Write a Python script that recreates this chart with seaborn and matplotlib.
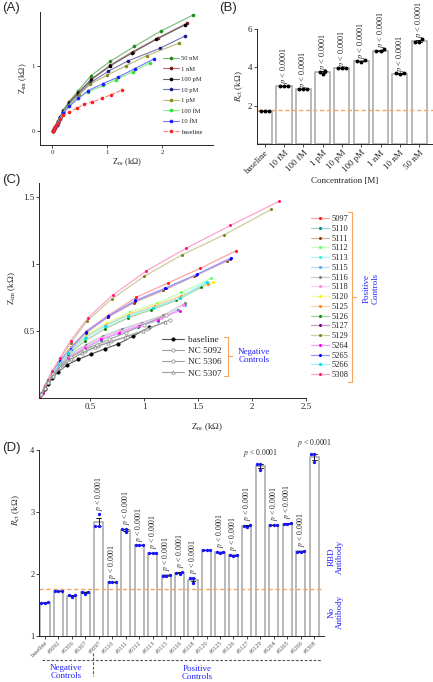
import numpy as np
import pandas as pd
import matplotlib
matplotlib.use("Agg")
import matplotlib.pyplot as plt
from matplotlib.lines import Line2D
from matplotlib import colors as mcolors
import seaborn as sns

# ---------------- data ----------------
# (A) Nyquist plots for RBD concentrations
a_labels = ['50 nM', '1 nM', '100 pM', '10 pM', '1 pM', '100 fM', '10 fM', 'baseline']
a_colors = ['#1c8c1c', '#7a1414', '#000000', '#1a1a86', '#8c8c1c', '#2ee62e', '#1a1aff', '#ff1f1f']
a_x = [
    [0.02, 0.03, 0.05, 0.08, 0.10, 0.14, 0.20, 0.30, 0.47, 0.70, 1.05, 1.49, 1.98, 2.55],
    [0.02, 0.03, 0.05, 0.08, 0.10, 0.14, 0.20, 0.30, 0.47, 0.71, 1.05, 1.46, 1.92, 2.45],
    [0.02, 0.03, 0.05, 0.08, 0.10, 0.14, 0.20, 0.30, 0.47, 0.71, 1.05, 1.45, 1.89, 2.41],
    [0.02, 0.03, 0.05, 0.08, 0.10, 0.14, 0.20, 0.30, 0.47, 0.69, 1.02, 1.38, 1.95, 2.41],
    [0.02, 0.03, 0.05, 0.08, 0.10, 0.14, 0.20, 0.30, 0.48, 0.69, 1.00, 1.33, 1.72, 2.30],
    [0.02, 0.03, 0.05, 0.08, 0.10, 0.14, 0.19, 0.29, 0.46, 0.64, 0.93, 1.16, 1.46, 1.78],
    [0.02, 0.03, 0.05, 0.08, 0.10, 0.14, 0.19, 0.31, 0.47, 0.65, 0.92, 1.20, 1.50, 1.85],
    [0.02, 0.03, 0.05, 0.07, 0.10, 0.14, 0.20, 0.31, 0.44, 0.58, 0.73, 0.90, 1.07, 1.27],
]
a_y = [
    [0.00, 0.03, 0.06, 0.11, 0.15, 0.22, 0.32, 0.45, 0.62, 0.85, 1.07, 1.30, 1.54, 1.78],
    [0.00, 0.03, 0.06, 0.11, 0.15, 0.21, 0.31, 0.44, 0.59, 0.80, 1.01, 1.22, 1.43, 1.66],
    [0.00, 0.03, 0.06, 0.10, 0.14, 0.21, 0.30, 0.43, 0.58, 0.79, 1.00, 1.20, 1.41, 1.63],
    [0.00, 0.03, 0.06, 0.10, 0.14, 0.20, 0.29, 0.41, 0.56, 0.74, 0.92, 1.08, 1.27, 1.46],
    [0.00, 0.03, 0.06, 0.10, 0.14, 0.20, 0.28, 0.40, 0.55, 0.72, 0.86, 1.00, 1.16, 1.35],
    [0.00, 0.03, 0.06, 0.10, 0.13, 0.19, 0.27, 0.38, 0.50, 0.60, 0.70, 0.79, 0.91, 1.05],
    [0.00, 0.03, 0.06, 0.10, 0.13, 0.19, 0.27, 0.38, 0.50, 0.62, 0.73, 0.83, 0.96, 1.11],
    [0.00, 0.03, 0.06, 0.09, 0.13, 0.18, 0.24, 0.29, 0.35, 0.41, 0.45, 0.50, 0.56, 0.63],
]

# (B) Rct vs concentration
conc_b = ['baseline', '10 fM', '100 fM', '1 pM', '10 pM', '100 pM', '1 nM', '10 nM', '50 nM']
rct_b = [
    [1.72, 1.72, 1.72],
    [3.05, 3.05, 3.05],
    [2.87, 2.87, 2.87],
    [3.80, 3.63, 3.77],
    [3.97, 3.97, 3.97],
    [4.33, 4.29, 4.36],
    [4.95, 4.83, 4.83],
    [3.69, 3.63, 3.71],
    [5.47, 5.33, 5.33],
]
cutoff_b = 1.8

# (C) Nyquist plots for patient samples
c_pos_labels = ['5097', '5110', '5111', '5112', '5113', '5115', '5116', '5118', '5120',
                '5125', '5126', '5127', '5129', '5264', '5265', '5266', '5308']
c_pos_colors = ['#ff1a1a', '#008b8b', '#8b4513', '#66ff66', '#33f0f0', '#55aaf0', '#808080',
                '#ff88f0', '#f5f500', '#ff8a1a', '#138a13', '#7a007a', '#80801a', '#ff00ff',
                '#0000ff', '#00e0ee', '#ff1a75']
c_pos_x = [
    [0.04, 0.06, 0.08, 0.11, 0.15, 0.22, 0.32, 0.47, 0.68, 0.93, 1.22, 1.52, 1.85],
    [0.04, 0.06, 0.08, 0.11, 0.15, 0.21, 0.30, 0.45, 0.60, 0.77, 0.94, 1.125, 1.31],
    [0.04, 0.06, 0.08, 0.11, 0.15, 0.22, 0.31, 0.46, 0.66, 0.91, 1.18, 1.46, 1.77],
    [0.04, 0.06, 0.08, 0.11, 0.15, 0.21, 0.31, 0.47, 0.66, 0.87, 1.12, 1.345, 1.62],
    [0.04, 0.06, 0.08, 0.11, 0.15, 0.21, 0.30, 0.46, 0.65, 0.85, 1.09, 1.32, 1.56],
    [0.04, 0.06, 0.08, 0.11, 0.15, 0.21, 0.30, 0.45, 0.61, 0.79, 0.97, 1.17, 1.375],
    [0.04, 0.06, 0.08, 0.11, 0.15, 0.21, 0.30, 0.46, 0.62, 0.80, 0.98, 1.18, 1.38],
    [0.04, 0.06, 0.08, 0.11, 0.15, 0.21, 0.30, 0.45, 0.60, 0.78, 0.96, 1.16, 1.36],
    [0.04, 0.06, 0.08, 0.11, 0.15, 0.21, 0.30, 0.46, 0.66, 0.88, 1.13, 1.38, 1.64],
    [0.04, 0.06, 0.08, 0.11, 0.15, 0.21, 0.30, 0.46, 0.65, 0.86, 1.10, 1.34, 1.59],
    [0.04, 0.06, 0.08, 0.11, 0.15, 0.21, 0.30, 0.455, 0.64, 0.85, 1.065, 1.30, 1.53],
    [0.04, 0.06, 0.08, 0.11, 0.15, 0.22, 0.32, 0.46, 0.67, 0.92, 1.20, 1.48, 1.80],
    [0.04, 0.06, 0.08, 0.11, 0.15, 0.22, 0.32, 0.47, 0.70, 1.00, 1.35, 1.74, 2.18],
    [0.04, 0.06, 0.08, 0.11, 0.15, 0.21, 0.30, 0.45, 0.60, 0.77, 0.95, 1.13, 1.33],
    [0.04, 0.06, 0.08, 0.11, 0.15, 0.22, 0.32, 0.46, 0.67, 0.92, 1.19, 1.49, 1.81],
    [0.04, 0.06, 0.08, 0.11, 0.15, 0.21, 0.30, 0.45, 0.64, 0.85, 1.08, 1.33, 1.58],
    [0.04, 0.06, 0.08, 0.11, 0.15, 0.22, 0.32, 0.48, 0.71, 1.02, 1.39, 1.80, 2.25],
]
c_pos_y = [
    [0.00, 0.05, 0.09, 0.135, 0.19, 0.28, 0.38, 0.505, 0.625, 0.755, 0.86, 0.97, 1.10],
    [0.00, 0.04, 0.08, 0.12, 0.165, 0.23, 0.30, 0.37, 0.435, 0.485, 0.535, 0.58, 0.66],
    [0.00, 0.05, 0.09, 0.135, 0.19, 0.27, 0.37, 0.485, 0.605, 0.715, 0.805, 0.91, 1.025],
    [0.00, 0.045, 0.085, 0.125, 0.175, 0.26, 0.36, 0.48, 0.56, 0.645, 0.71, 0.79, 0.895],
    [0.00, 0.045, 0.085, 0.125, 0.175, 0.25, 0.35, 0.455, 0.545, 0.62, 0.685, 0.755, 0.86],
    [0.00, 0.04, 0.08, 0.12, 0.165, 0.23, 0.31, 0.39, 0.46, 0.51, 0.56, 0.61, 0.70],
    [0.00, 0.04, 0.08, 0.12, 0.165, 0.235, 0.32, 0.40, 0.465, 0.52, 0.565, 0.62, 0.71],
    [0.00, 0.04, 0.08, 0.12, 0.165, 0.23, 0.305, 0.38, 0.45, 0.50, 0.55, 0.60, 0.695],
    [0.00, 0.045, 0.085, 0.125, 0.175, 0.255, 0.36, 0.47, 0.56, 0.64, 0.705, 0.775, 0.865],
    [0.00, 0.045, 0.085, 0.125, 0.175, 0.25, 0.35, 0.46, 0.55, 0.625, 0.69, 0.76, 0.855],
    [0.00, 0.045, 0.085, 0.125, 0.17, 0.24, 0.33, 0.43, 0.52, 0.60, 0.66, 0.73, 0.83],
    [0.00, 0.05, 0.09, 0.135, 0.19, 0.275, 0.37, 0.49, 0.61, 0.725, 0.82, 0.92, 1.04],
    [0.00, 0.05, 0.095, 0.14, 0.20, 0.295, 0.41, 0.575, 0.74, 0.91, 1.07, 1.22, 1.41],
    [0.00, 0.04, 0.08, 0.12, 0.165, 0.23, 0.30, 0.375, 0.44, 0.49, 0.54, 0.585, 0.655],
    [0.00, 0.05, 0.09, 0.135, 0.19, 0.275, 0.37, 0.495, 0.615, 0.73, 0.82, 0.925, 1.05],
    [0.00, 0.045, 0.085, 0.125, 0.175, 0.25, 0.34, 0.45, 0.54, 0.615, 0.675, 0.745, 0.865],
    [0.00, 0.05, 0.095, 0.14, 0.205, 0.30, 0.43, 0.60, 0.77, 0.95, 1.12, 1.29, 1.47],
]
c_neg_labels = ['baseline', 'NC 5092', 'NC 5306', 'NC 5307']
c_neg_markers = ['o', 'o', 'o', '^']
c_neg_x = [
    [0.05, 0.08, 0.11, 0.15, 0.20, 0.29, 0.39, 0.51, 0.64, 0.76, 0.90, 1.05],
    [0.05, 0.08, 0.11, 0.16, 0.23, 0.33, 0.45, 0.57, 0.69, 0.84, 1.03, 1.24],
    [0.05, 0.08, 0.11, 0.16, 0.22, 0.32, 0.44, 0.56, 0.68, 0.83, 1.00, 1.20],
    [0.05, 0.08, 0.11, 0.16, 0.22, 0.32, 0.43, 0.55, 0.67, 0.82, 0.99, 1.19],
]
c_neg_y = [
    [0.03, 0.07, 0.11, 0.15, 0.195, 0.25, 0.29, 0.33, 0.37, 0.405, 0.465, 0.53],
    [0.03, 0.08, 0.12, 0.17, 0.23, 0.295, 0.35, 0.39, 0.425, 0.46, 0.515, 0.585],
    [0.03, 0.08, 0.12, 0.18, 0.24, 0.31, 0.36, 0.40, 0.44, 0.49, 0.55, 0.62],
    [0.03, 0.08, 0.12, 0.17, 0.23, 0.29, 0.34, 0.38, 0.415, 0.455, 0.505, 0.57],
]

# (D) Rct for patient samples
samples_d = ['baseline', '#5092', '#5306', '#5307', '#5097', '#5110', '#5111', '#5112',
             '#5113', '#5115', '#5116', '#5118', '#5120', '#5125', '#5126', '#5127',
             '#5129', '#5264', '#5265', '#5266', '#5308']
rct_d = [
    [1.53, 1.54, 1.53], [1.73, 1.73, 1.73], [1.66, 1.63, 1.65], [1.71, 1.68, 1.71],
    [2.96, 2.77, 2.77], [1.86, 1.86, 1.86], [2.73, 2.67, 2.73], [2.46, 2.46, 2.46],
    [2.34, 2.34, 2.34], [1.98, 1.97, 1.97], [2.02, 2.00, 2.03], [1.93, 1.85, 1.93],
    [2.38, 2.38, 2.38], [2.36, 2.33, 2.36], [2.30, 2.29, 2.31], [2.78, 2.76, 2.79],
    [3.78, 3.67, 3.78], [2.79, 2.79, 2.79], [2.82, 2.80, 2.80], [2.37, 2.36, 2.36],
    [3.93, 3.80, 3.93],
]
p_vertical_d = ['#5097', '#5110', '#5111', '#5112', '#5113', '#5115', '#5116', '#5118',
                '#5125', '#5126', '#5127', '#5264', '#5265', '#5266']
p_flat_d = ['#5129', '#5308']
cutoff_d = 1.75

# ---------------- style ----------------
sns.set_style("ticks")
plt.rcParams['font.family'] = ['Liberation Serif', 'DejaVu Serif']
plt.rcParams['mathtext.fontset'] = 'stix'
plt.rcParams['axes.linewidth'] = 0.7

W, H = 433, 682
BLUE = '#2424ff'
ORANGE = '#f4a460'


def fx(px):
    return px / W


def fy(py):
    return 1 - py / H


def lighten(c, amt):
    rgb = np.array(mcolors.to_rgb(c))
    return tuple(rgb + (1 - rgb) * amt)


def ticks(ax, size):
    ax.tick_params(labelsize=size, length=2, width=0.6, pad=1.5)


fig = plt.figure(figsize=(W / 100, H / 100), dpi=100)

# ---------------- (A) ----------------
axA = fig.add_axes([fx(40), fy(145), 173 / W, 133 / H])
for lab, xs, ys, col in zip(a_labels, a_x, a_y, a_colors):
    sns.lineplot(x=xs, y=ys, ax=axA, sort=False, estimator=None,
                 color=lighten(col, 0.4), lw=0.8, ls='--' if lab == 'baseline' else '-',
                 marker='o', markersize=2.6, markerfacecolor=col, markeredgecolor=col,
                 markeredgewidth=0, label=lab)
axA.set_xlim(-0.224, 2.92)
axA.set_ylim(-0.215, 1.83)
axA.set_xticks([0, 1, 2])
axA.set_yticks([0, 1])
ticks(axA, 5)
axA.set_xlabel('Z$_{\\rm re}$ (kΩ)', fontsize=6, labelpad=1)
axA.set_ylabel('Z$_{\\rm im}$ (kΩ)', fontsize=6, labelpad=2)
axA.legend(loc='lower right', frameon=False, fontsize=4.7, handlelength=2.4,
           labelspacing=0.75, borderaxespad=1.2, handletextpad=0.4)
sns.despine(ax=axA)

# ---------------- (B) ----------------
dfB = pd.DataFrame({'conc': np.repeat(conc_b, 3), 'rct': np.concatenate(rct_b)})
axB = fig.add_axes([fx(257), fy(144), 176 / W, 115 / H])
sns.barplot(data=dfB, x='conc', y='rct', order=conc_b, color='white', edgecolor='#a6a6a6',
            linewidth=1.1, width=0.78, errorbar='se', capsize=0.3,
            err_kws={'linewidth': 0.6, 'color': 'k'}, ax=axB)
sns.swarmplot(data=dfB, x='conc', y='rct', order=conc_b, color='k', size=2.8, ax=axB)
axB.axhline(cutoff_b, color=ORANGE, ls=(0, (3, 2)), lw=1.0)
for i, vals in enumerate(rct_b):
    if i == 0:
        continue
    axB.text(i, max(vals) + 0.06, '$p$ < 0.0001', rotation=90, ha='center', va='bottom',
             fontsize=5.9)
axB.set_xlim(-0.4, 8.72)
axB.set_ylim(0, 6)
axB.set_yticks([2, 4, 6])
ticks(axB, 6.5)
plt.setp(axB.get_xticklabels(), rotation=45, ha='right', rotation_mode='anchor')
axB.set_xlabel('Concentration [M]', fontsize=6.5, labelpad=1)
axB.set_ylabel('$R_{\\rm ct}$ (kΩ)', fontsize=6.5, labelpad=2)
sns.despine(ax=axB)

# ---------------- (C) ----------------
axC = fig.add_axes([fx(39.3), fy(398.3), 266.7 / W, 215.3 / H])
for lab, xs, ys, col in zip(c_pos_labels, c_pos_x, c_pos_y, c_pos_colors):
    sns.lineplot(x=xs, y=ys, ax=axC, sort=False, estimator=None,
                 color=lighten(col, 0.6), lw=0.9, marker='o', markersize=2.2,
                 markerfacecolor=col, markeredgecolor=col, markeredgewidth=0, label=lab)
for k, (lab, xs, ys, mk) in enumerate(zip(c_neg_labels, c_neg_x, c_neg_y, c_neg_markers)):
    mfc = 'k' if k == 0 else 'white'
    mec = 'k' if k == 0 else '#8a8a8a'
    sns.lineplot(x=xs, y=ys, ax=axC, sort=False, estimator=None,
                 color='#555555' if k == 0 else '#a0a0a0', lw=0.8, marker=mk, markersize=2.4,
                 markerfacecolor=mfc, markeredgecolor=mec, markeredgewidth=0.5, label=lab)
axC.set_xlim(0.03, 2.5)
axC.set_ylim(0, 1.607)
axC.set_xticks([0.5, 1, 1.5, 2, 2.5])
axC.set_xticklabels(['0.5', '1', '1.5', '2', '2.5'])
axC.set_yticks([0.5, 1, 1.5])
axC.set_yticklabels(['0.5', '1', '1.5'])
ticks(axC, 6.5)
handles, labels = axC.get_legend_handles_labels()
n_pos = len(c_pos_labels)
leg_neg = axC.legend(handles[n_pos:], labels[n_pos:], loc='upper left',
                     bbox_to_anchor=(fx(157), fy(331)), bbox_transform=fig.transFigure,
                     frameon=False, fontsize=6.7, handlelength=2.4, labelspacing=0.28,
                     handletextpad=0.4, borderpad=0)
axC.add_artist(leg_neg)
axC.legend(handles[:n_pos], labels[:n_pos], loc='upper left',
           bbox_to_anchor=(fx(307), fy(211)), bbox_transform=fig.transFigure,
           frameon=False, fontsize=6, handlelength=2.1, labelspacing=0.21,
           handletextpad=0.3, borderpad=0)
sns.despine(ax=axC)
fig.text(fx(207), fy(427), 'Z$_{\\rm re}$ (kΩ)', fontsize=6.5, ha='center', va='center')
fig.text(fx(12), fy(288), 'Z$_{\\rm im}$ (kΩ)', fontsize=6.5, ha='center', va='center',
         rotation=90)


def bracket(x, y0, y1, ym, out):
    kw = dict(color=ORANGE, lw=0.8, transform=fig.transFigure)
    fig.add_artist(Line2D([fx(x), fx(x)], [fy(y0), fy(y1)], **kw))
    fig.add_artist(Line2D([fx(x - 4), fx(x)], [fy(y0), fy(y0)], **kw))
    fig.add_artist(Line2D([fx(x - 4), fx(x)], [fy(y1), fy(y1)], **kw))
    fig.add_artist(Line2D([fx(x), fx(x + out)], [fy(ym), fy(ym)], **kw))


bracket(228, 337, 376, 356, 4)
fig.text(fx(254), fy(356), 'Negative\nControls', color=BLUE, fontsize=6.5, ha='center',
         va='center', linespacing=1.1)
bracket(352, 212, 382, 297, 4)
fig.text(fx(371), fy(288), 'Positive\nControls', color=BLUE, fontsize=6.5, ha='center',
         va='center', rotation=90, linespacing=1.1)

# ---------------- (D) ----------------
dfD = pd.DataFrame({'sample': np.repeat(samples_d, 3), 'rct': np.concatenate(rct_d)})
axD = fig.add_axes([fx(39.3), fy(635.7), 285 / W, 185.7 / H])
sns.barplot(data=dfD, x='sample', y='rct', order=samples_d, color='white',
            edgecolor='#a6a6a6', linewidth=1.1, width=0.68, errorbar='se', capsize=0.35,
            err_kws={'linewidth': 0.6, 'color': 'k'}, ax=axD)
sns.swarmplot(data=dfD, x='sample', y='rct', order=samples_d, color='#1414ff', size=2.4,
              ax=axD)
axD.axhline(cutoff_d, color=ORANGE, ls=(0, (3, 2)), lw=1.0)
for i, (s, vals) in enumerate(zip(samples_d, rct_d)):
    if s in p_vertical_d:
        axD.text(i, max(vals) + 0.06, '$p$ < 0.0001', rotation=90, ha='center',
                 va='bottom', fontsize=5.5)
    elif s in p_flat_d:
        axD.text(i, max(vals) + 0.08, '$p$ < 0.0001', ha='center', va='bottom',
                 fontsize=5.5)
axD.set_xlim(-0.42, 20.75)
axD.set_ylim(1, 4)
axD.set_yticks([1, 2, 3, 4])
ticks(axD, 6)
axD.tick_params(axis='x', labelsize=4.5, labelcolor='#555555')
plt.setp(axD.get_xticklabels(), rotation=45, ha='right', rotation_mode='anchor')
axD.set_xlabel('')
axD.set_ylabel('')
sns.despine(ax=axD)
fig.text(fx(16), fy(510), '$R_{\\rm ct}$ (kΩ)', fontsize=6.5, ha='center', va='center',
         rotation=90)
fig.text(fx(336), fy(557), 'RBD\nAntibody', color=BLUE, fontsize=6.5, ha='center',
         va='center', rotation=90, linespacing=1.1)
fig.text(fx(336), fy(612), 'No\nAntibody', color=BLUE, fontsize=6.5, ha='center',
         va='center', rotation=90, linespacing=1.1)
dkw = dict(color='#555555', lw=0.8, ls=(0, (2.5, 1.5)), transform=fig.transFigure)
fig.add_artist(Line2D([fx(42), fx(322)], [fy(660), fy(660)], **dkw))
fig.add_artist(Line2D([fx(93), fx(93)], [fy(653), fy(676)], **dkw))
fig.text(fx(66), fy(672), 'Negative\nControls', color=BLUE, fontsize=6.5, ha='center',
         va='center', linespacing=1.1)
fig.text(fx(197), fy(673), 'Positive\nControls', color=BLUE, fontsize=6.5, ha='center',
         va='center', linespacing=1.1)

# ---------------- panel letters ----------------
for lab, x, y in [('(A)', 2, 8), ('(B)', 219, 8), ('(C)', 2, 180), ('(D)', 2, 448)]:
    fig.text(fx(x), fy(y), lab, fontsize=9.5, family='Liberation Sans', ha='left',
             va='center')

fig.savefig('out.png', dpi=100)
